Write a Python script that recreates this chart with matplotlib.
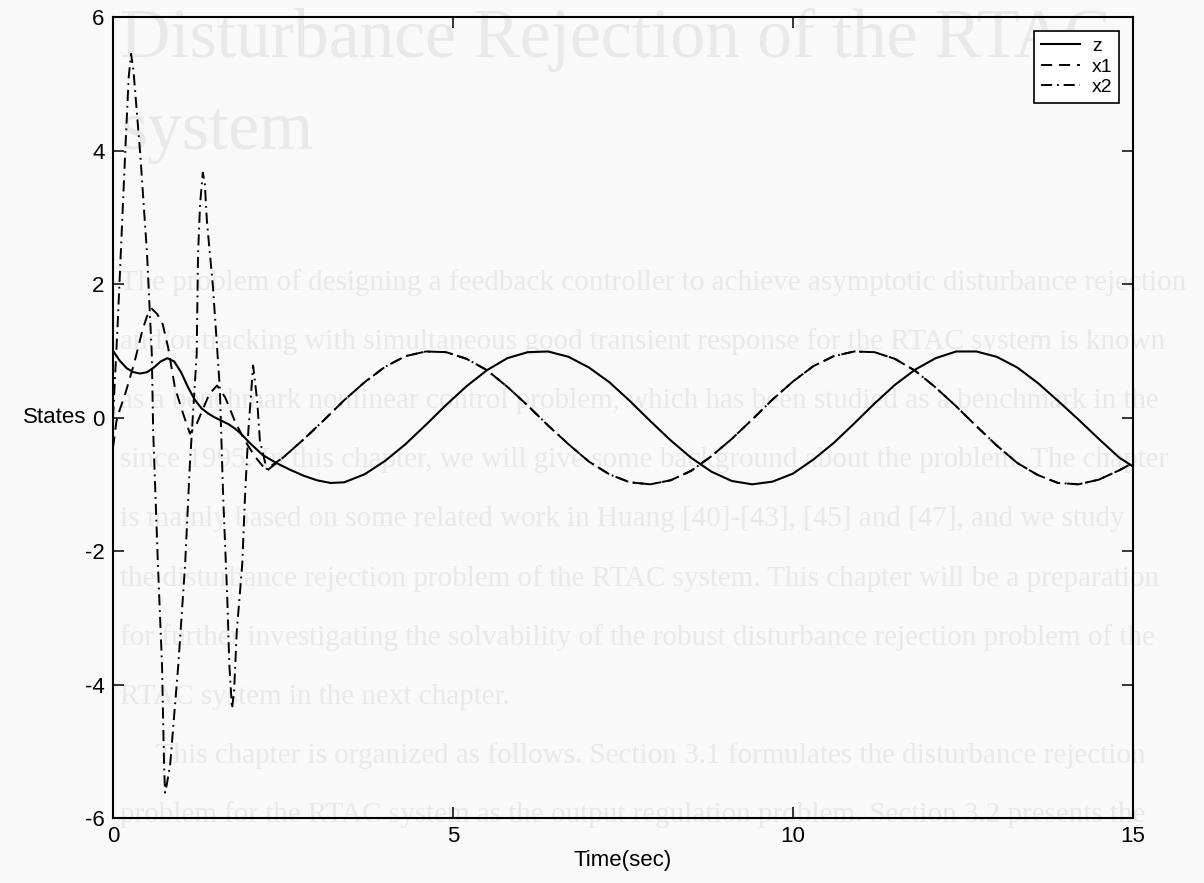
"""
States of the RTAC system under disturbance rejection, redrawn from a scanned figure.
"""
import numpy as np
import matplotlib
matplotlib.use("Agg")
import matplotlib.pyplot as plt

# values
t_z = [0.0, 0.1, 0.2, 0.3, 0.4, 0.5, 0.6, 0.7, 0.8, 0.9, 1.0, 1.1, 1.2, 1.3, 1.4,
       1.5, 1.6, 1.7, 1.8, 1.9, 2.0, 2.2, 2.4, 2.6, 2.8, 3.0, 3.2, 3.4, 3.7, 4.0,
       4.3, 4.6, 4.9, 5.2, 5.5, 5.8, 6.1, 6.4, 6.7, 7.0, 7.3, 7.6, 7.9, 8.2, 8.5,
       8.8, 9.1, 9.4, 9.7, 10.0, 10.3, 10.6, 10.9, 11.2, 11.5, 11.8, 12.1, 12.4,
       12.7, 13.0, 13.3, 13.6, 13.9, 14.2, 14.5, 14.8, 15.0]
z = [1.0, 0.85, 0.74, 0.68, 0.66, 0.68, 0.75, 0.84, 0.89, 0.84, 0.68, 0.46, 0.27,
     0.14, 0.06, 0.0, -0.05, -0.1, -0.17, -0.26, -0.37, -0.56, -0.68, -0.78, -0.87,
     -0.94, -0.98, -0.97, -0.85, -0.65, -0.4, -0.11, 0.19, 0.47, 0.71, 0.89, 0.98,
     0.99, 0.91, 0.75, 0.53, 0.25, -0.05, -0.34, -0.6, -0.81, -0.95, -1.0, -0.96,
     -0.84, -0.63, -0.38, -0.09, 0.21, 0.49, 0.72, 0.89, 0.99, 0.99, 0.91, 0.75,
     0.52, 0.25, -0.03, -0.32, -0.6, -0.73]

# steady part shared by x1 and x2 (they lie on top of each other after ~2.3 s)
t_tail = [2.5, 2.8, 3.1, 3.4, 3.7, 4.0, 4.3, 4.6, 4.9, 5.2, 5.5, 5.8, 6.1, 6.4,
          6.7, 7.0, 7.3, 7.6, 7.9, 8.2, 8.5, 8.8, 9.1, 9.4, 9.7, 10.0, 10.3, 10.6,
          10.9, 11.2, 11.5, 11.8, 12.1, 12.4, 12.7, 13.0, 13.3, 13.6, 13.9, 14.2,
          14.5, 14.8, 15.0]
x_tail = [-0.6, -0.33, -0.04, 0.26, 0.53, 0.76, 0.92, 0.99, 0.98, 0.88, 0.71, 0.46,
          0.18, -0.12, -0.4, -0.66, -0.85, -0.97, -1.0, -0.94, -0.8, -0.58, -0.32,
          -0.03, 0.27, 0.54, 0.77, 0.92, 0.99, 0.98, 0.88, 0.7, 0.45, 0.17, -0.13,
          -0.42, -0.68, -0.86, -0.98, -1.0, -0.93, -0.79, -0.68]

t_x1_start = [0.0, 0.05, 0.1, 0.18, 0.25, 0.32, 0.43, 0.5, 0.57, 0.65, 0.73, 0.81,
              0.91, 1.03, 1.13, 1.22, 1.31, 1.42, 1.53, 1.65, 1.79, 1.94, 2.1, 2.26]
x1_start = [-0.45, -0.05, 0.12, 0.36, 0.6, 0.85, 1.3, 1.52, 1.63, 1.55, 1.4, 1.05,
            0.45, 0.06, -0.24, -0.12, 0.1, 0.36, 0.48, 0.3, -0.05, -0.35, -0.6, -0.8]

t_x2_start = [0.0, 0.07, 0.18, 0.23, 0.265, 0.3, 0.4, 0.5, 0.57, 0.59, 0.66, 0.72,
              0.75, 0.765, 0.79, 0.84, 0.96, 1.06, 1.13, 1.23, 1.25, 1.28, 1.32,
              1.35, 1.38, 1.47, 1.57, 1.62, 1.68, 1.71, 1.75, 1.78, 1.82, 1.9, 1.94,
              1.99, 2.06, 2.12, 2.16, 2.26]
x2_start = [0.0, 1.45, 4.0, 5.1, 5.45, 5.2, 3.95, 2.45, 0.95, -0.2, -2.2, -3.7,
            -5.2, -5.62, -5.5, -5.2, -3.7, -2.2, -0.7, 0.95, 2.45, 3.2, 3.67,
            3.5, 2.95, 1.95, 0.45, -1.2, -2.7, -3.7, -4.36, -4.1, -3.2, -2.2, -1.2,
            -0.2, 0.78, 0.25, -0.35, -0.77]

t_x1 = t_x1_start + t_tail
x1 = x1_start + x_tail
t_x2 = t_x2_start + t_tail
x2 = x2_start + x_tail

# text of the printed page that shows through the scan
heading = ["Disturbance Rejection of the RTAC", "system"]
page_lines = [
    "The problem of designing a feedback controller to achieve asymptotic disturbance rejection",
    "and/or tracking with simultaneous good transient response for the RTAC system is known",
    "as a benchmark nonlinear control problem, which has been studied as a benchmark in the",
    "since 1995. In this chapter, we will give some background about the problem. The chapter",
    "is mainly based on some related work in Huang [40]-[43], [45] and [47], and we study",
    "the disturbance rejection problem of the RTAC system. This chapter will be a preparation",
    "for further investigating the solvability of the robust disturbance rejection problem of the",
    "RTAC system in the next chapter.",
    "     This chapter is organized as follows. Section 3.1 formulates the disturbance rejection",
    "problem for the RTAC system as the output regulation problem. Section 3.2 presents the",
]

plt.rcParams["font.family"] = ["Liberation Sans", "DejaVu Sans"]
plt.rcParams["lines.scale_dashes"] = False
plt.rcParams["axes.unicode_minus"] = False  # plain hyphen like the MATLAB original

fig = plt.figure(figsize=(12.04, 8.83), dpi=100, facecolor="#f9f9f9")

# ghost text sits below the axes so the legend box hides it
ghost = "#e9e9e9"
fig.text(0.1, 0.955, heading[0], fontsize=50, family="Liberation Serif",
         color=ghost, va="center", zorder=-1)
fig.text(0.1, 0.85, heading[1], fontsize=50, family="Liberation Serif",
         color=ghost, va="center", zorder=-1)
for i, line in enumerate(page_lines):
    fig.text(0.1, 0.68 - i * 0.067, line, fontsize=21, family="Liberation Serif",
             color=ghost, va="center", zorder=-1)

ax = fig.add_axes([0.0939, 0.0736, 0.847, 0.907])
ax.set_facecolor("none")

ax.plot(t_z, z, color="black", linewidth=1.5, linestyle="-", label="z")
ax.plot(t_x1, x1, color="black", linewidth=1.4, linestyle=(0, (8, 5)), label="x1")
ax.plot(t_x2, x2, color="black", linewidth=1.4,
        linestyle=(0, (8, 3.5, 1.3, 3.5)), label="x2")

ax.set_xlim(0, 15)
ax.set_ylim(-6, 6)
ax.set_xticks([0, 5, 10, 15])
ax.set_yticks([-6, -4, -2, 0, 2, 4, 6])
ax.tick_params(direction="in", length=8, width=1.1, labelsize=16, pad=6,
               top=True, right=True)
for side in ax.spines.values():
    side.set_linewidth(1.5)

ax.set_xlabel("Time(sec)", fontsize=16, labelpad=2)
ax.set_ylabel("States", fontsize=16, rotation=0, labelpad=22, va="center")

leg = ax.legend(loc="upper right", fontsize=14, frameon=True, fancybox=False,
                edgecolor="black", framealpha=1, facecolor="white",
                handlelength=2.0, handletextpad=0.6, borderpad=0.35,
                labelspacing=0.15, borderaxespad=0.7)
leg.get_frame().set_linewidth(1.2)

fig.savefig("out.png", dpi=100, facecolor=fig.get_facecolor())
